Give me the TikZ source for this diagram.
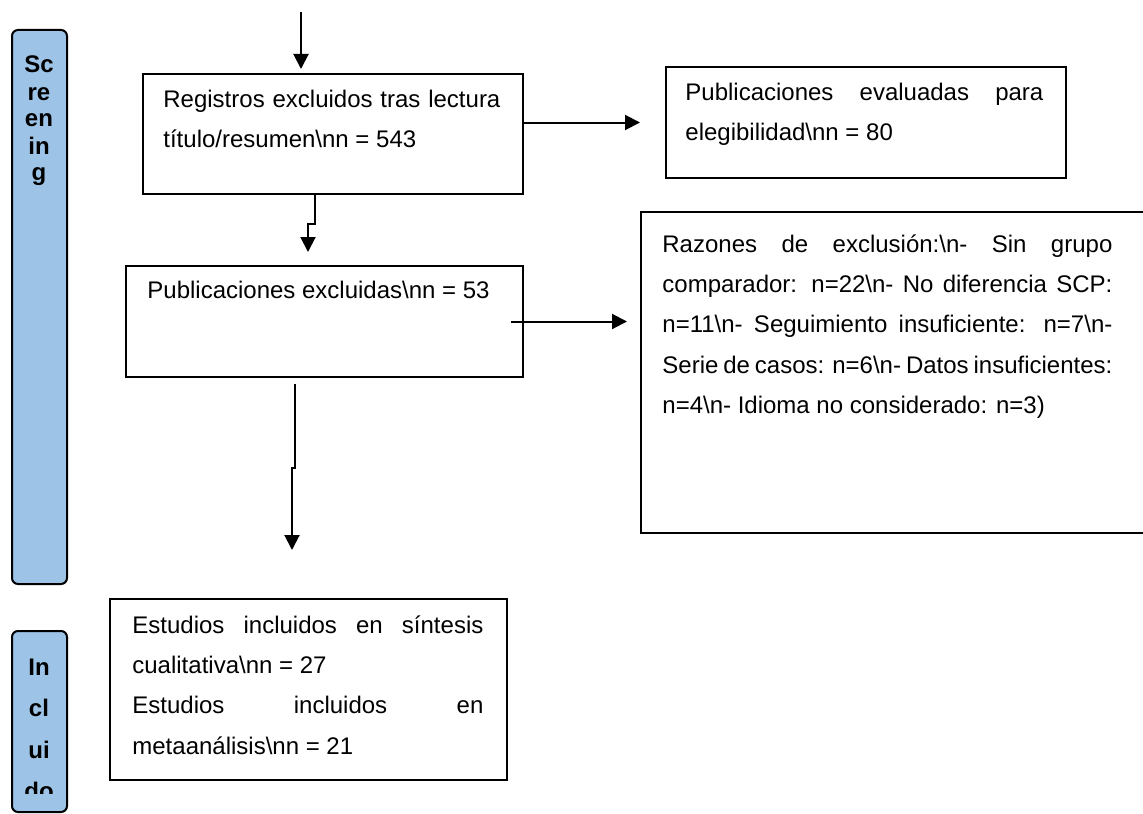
\documentclass[tikz,border=0pt]{standalone}
\usepackage{fontspec}
\setmainfont{Liberation Sans}
\usepackage{tikz}
\usetikzlibrary{positioning,arrows.meta}
\definecolor{phaseblue}{HTML}{9DC3E6}
\newcommand{\bs}{\textbackslash{}}

\begin{document}
\begin{tikzpicture}[x=0.5pt,y=-0.5pt,
    box/.style={draw, line width=1pt, inner sep=0pt, anchor=north west},
    txt/.style={anchor=base west, inner sep=0pt, align=justify,
      font=\fontsize{12}{20.2}\selectfont},
    phase/.style={draw, line width=1pt, fill=phaseblue, rounded corners=3pt,
      inner sep=0pt, anchor=north west, minimum width=27.5pt},
    phasetxt/.style={anchor=base, inner sep=0pt, align=center, text width=27.5pt},
    arr/.style={line width=1pt, -{Triangle[width=7.5pt,length=7.5pt]}}]
    \useasboundingbox (0,0) rectangle (1143,813);
    \clip (0,0) rectangle (1143,813);

    % phase bars
    \node[phase, minimum height=277pt] (scr) at (11,29) {};
    \node[phasetxt, font=\fontsize{12}{13.5}\selectfont\bfseries] (scrtxt) at (39,73)
      {Sc\\re\\en\\in\\g};
    \node[phase, minimum height=90.5pt] (incl) at (11,630) {};
    \begin{scope}
      \clip (11,630) rectangle (66,793);
      \node[phasetxt, font=\fontsize{12}{20.75}\selectfont\bfseries] (incltxt) at (39,675)
        {In\\cl\\ui\\do};
    \end{scope}

    % boxes
    \node[box, minimum width=190pt, minimum height=60pt] (reg) at (142,73) {};
    \node[txt, text width=168.5pt] (regtxt) at (163,107)
      {Registros excluidos tras lectura\linebreak t\'itulo/resumen\bs nn = 543};

    \node[box, minimum width=200pt, minimum height=55.5pt] (pev) at (665,66) {};
    \node[txt, text width=179pt] (pevtxt) at (685,100)
      {Publicaciones evaluadas para\linebreak elegibilidad\bs nn = 80};

    \node[box, minimum width=198.5pt, minimum height=55.5pt] (pex) at (125,265) {};
    \node[txt, text width=175pt] (pextxt) at (147,298)
      {Publicaciones excluidas\bs nn = 53};

    \node[box, minimum width=320pt, minimum height=160.5pt] (raz) at (640,211) {};
    \node[txt, text width=225pt] (raztxt) at (662,252)
      {Razones de exclusi\'on:\bs n- Sin grupo\linebreak
       comparador: n=22\bs n- No diferencia SCP:\linebreak
       n=11\bs n- Seguimiento insuficiente: n=7\bs n-\linebreak
       Serie de casos: n=6\bs n- Datos insuficientes:\linebreak
       n=4\bs n- Idioma no considerado: n=3)};

    \node[box, minimum width=198.5pt, minimum height=90.5pt] (inc) at (109,598) {};
    \node[txt, text width=175.5pt] (inctxt) at (132,633)
      {Estudios incluidos en s\'intesis\linebreak cualitativa\bs nn = 27\\
       Estudios incluidos en\linebreak metaan\'alisis\bs nn = 21};

    % connectors
    \coordinate (top) at (301,12);
    \draw[arr, shorten >=2pt] (top) -- (top |- reg.north);
    \draw[arr] (reg.east |- pev.west) -- ([xshift=-12.5pt]pev.west);
    \draw[arr] ([xshift=-9pt]reg.south) -- ++(0,-14.5pt)
      -| ([xshift=-8.25pt,yshift=6.5pt]pex.north);
    \draw[arr, shorten <=-6.5pt, shorten >=6.5pt] (pex.east) -- (pex.east -| raz.west);
    \draw[arr] ([xshift=-14.75pt,yshift=-3pt]pex.south) -- ++(0,-42pt)
      -| ([xshift=-8.25pt,yshift=24pt]inc.north);
  \end{tikzpicture}
\end{document}
